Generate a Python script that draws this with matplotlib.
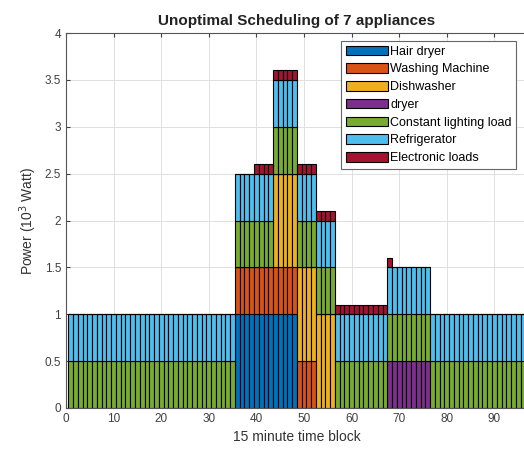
import numpy as np
import matplotlib
matplotlib.use("Agg")
import matplotlib.pyplot as plt

plt.rcParams["font.family"] = ["Liberation Sans", "DejaVu Sans"]

# power per 15-minute block (kW), blocks 1..96
blocks = np.arange(1, 97)
hair_dryer = [0.0] * 35 + [1.0] * 13 + [0.0] * 48
washing_machine = [0.0] * 35 + [0.5] * 17 + [0.0] * 44
dishwasher = [0.0] * 43 + [1.0] * 13 + [0.0] * 40
dryer = [0.0] * 67 + [0.5] * 9 + [0.0] * 20
lighting = [0.5] * 96
refrigerator = [0.5] * 96
electronic = [0.0] * 39 + [0.1] * 28 + [0.1] * 1 + [0.0] * 28

labels = ["Hair dryer", "Washing Machine", "Dishwasher", "dryer",
          "Constant lighting load", "Refrigerator", "Electronic loads"]
series = [hair_dryer, washing_machine, dishwasher, dryer,
          lighting, refrigerator, electronic]
colors = ["#0072BD", "#D95319", "#EDB120", "#7E2F8E",
          "#77AC30", "#4DBEEE", "#A2142F"]

fig = plt.figure(figsize=(5.24, 4.53), dpi=100)
ax = fig.add_axes([66 / 524, 45 / 453, 461.7 / 524, 375 / 453])

bottom = np.zeros(len(blocks))
for vals, lab, col in zip(series, labels, colors):
    vals = np.array(vals)
    ax.bar(blocks, vals, width=1.0, bottom=bottom, color=col,
           edgecolor="black", linewidth=0.8, label=lab)
    bottom += vals

ax.set_xlim(0, 97)
ax.set_ylim(0, 4)
ax.set_xticks(np.arange(0, 91, 10))
ax.set_yticks(np.arange(0, 4.01, 0.5))
ax.set_yticklabels(["0", "0.5", "1", "1.5", "2", "2.5", "3", "3.5", "4"])
ax.grid(True, color="#e0e0e0", linewidth=0.7)
ax.set_axisbelow(True)
ax.tick_params(direction="in", top=True, right=True, labelsize=8.5,
               colors="#404040", length=3)
for sp in ax.spines.values():
    sp.set_color("#555555")
    sp.set_linewidth(0.8)

ax.set_title("Unoptimal Scheduling of 7 appliances", fontsize=11,
             fontweight="bold", color="#222222", pad=6)
ax.set_xlabel("15 minute time block", fontsize=10, color="#333333")
ax.set_ylabel("Power (10$^3$ Watt)", fontsize=10, color="#333333")

leg = ax.legend(loc="upper right", bbox_to_anchor=(0.98, 0.985),
                fontsize=9, fancybox=False, framealpha=1,
                edgecolor="#666666", handlelength=3.4, handleheight=0.8,
                labelspacing=0.45, handletextpad=0.15, borderpad=0.35,
                borderaxespad=0.2)
leg.get_frame().set_linewidth(0.8)

fig.savefig("out.png", dpi=100)
